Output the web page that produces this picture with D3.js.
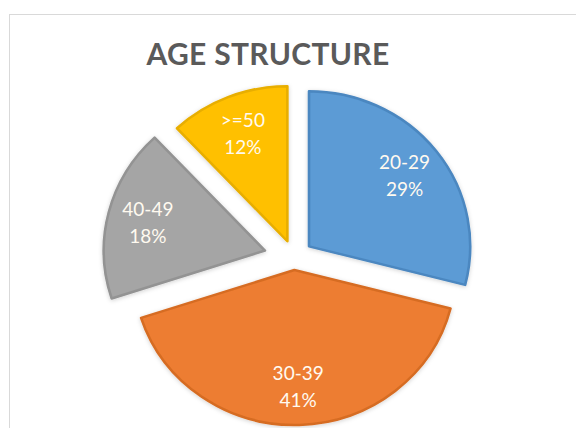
<!DOCTYPE html>
<html>
<head>
<meta charset="utf-8">
<script src="https://cdn.jsdelivr.net/npm/d3@7"></script>
<style>
  html, body { margin: 0; padding: 0; background: #fff; }
  svg { display: block; }
</style>
</head>
<body>
<main></main>
<script>
"use strict";

const categories = ["20-29", "30-39", "40-49", ">=50"];
const shares = [29, 41, 18, 12];
const chartTitle = "AGE STRUCTURE";

const svgWidth = 576;
const svgHeight = 428;
const radius = 155;
const stretchX = 1.04; // the pie is a touch wider than tall
const center = [294, 258];
// how far each slice is pulled out of the pie
const explode = [19, 12, 30, 18];
const fills = ["#5b9bd5", "#ed7d31", "#a5a5a5", "#ffc000"];
const edges = ["#4b87c0", "#d66c24", "#939393", "#e8ae00"];

const container = d3.select("main")
  .append("svg")
  .attr("width", svgWidth)
  .attr("height", svgHeight)
;

const defs = container.append("defs");
defs.append("filter")
  .attr("id", "soft")
  .attr("x", "-10%").attr("y", "-10%")
  .attr("width", "120%").attr("height", "120%")
  .append("feDropShadow")
  .attr("dx", 0)
  .attr("dy", 1)
  .attr("stdDeviation", 2)
  .attr("flood-color", "#000")
  .attr("flood-opacity", 0.18)
;

// chart frame, only its left and top edges fall inside the window
container.append("rect")
  .attr("x", 9.5)
  .attr("y", 14.5)
  .attr("width", 620)
  .attr("height", 500)
  .attr("fill", "#fff")
  .attr("stroke", "#d9d9d9")
;

container.append("text")
  .attr("x", 268)
  .attr("y", 65)
  .attr("text-anchor", "middle")
  .style("font-family", "Lato, 'Open Sans', sans-serif")
  .style("font-weight", "bold")
  .style("font-size", "30px")
  .style("letter-spacing", "0.3px")
  .style("fill", "#5a5a5a")
  .text(chartTitle)
;

const pie = d3.pie()
  .sort(null)
  .value(d => d)
;

const arcs = pie(shares);

const arc = d3.arc()
  .innerRadius(0)
  .outerRadius(radius)
;

const labelArc = d3.arc()
  .innerRadius(radius * 0.75)
  .outerRadius(radius * 0.75)
;

const offset = (d, i) => {
  const mid = (d.startAngle + d.endAngle) / 2;
  return [Math.sin(mid) * explode[i], -Math.cos(mid) * explode[i]];
};

const slices = container.append("g")
  .attr("transform", `translate(${center[0]}, ${center[1]})`)
  .selectAll("g")
  .data(arcs)
  .enter()
  .append("g")
  .attr("transform", (d, i) => {
    const o = offset(d, i);
    return `translate(${o[0]}, ${o[1]})`;
  })
;

slices.append("path")
  .attr("d", arc)
  .attr("transform", `scale(${stretchX}, 1)`)
  .attr("fill", (d, i) => fills[i])
  .attr("stroke", (d, i) => edges[i])
  .attr("stroke-width", 2.5)
  .attr("stroke-linejoin", "round")
  .attr("filter", "url(#soft)")
;

const labels = slices.append("text")
  .attr("transform", d => {
    const c = labelArc.centroid(d);
    return `translate(${c[0] * stretchX}, ${c[1]})`;
  })
  .attr("text-anchor", "middle")
  .style("font-family", "Lato, 'Open Sans', sans-serif")
  .style("font-size", "19px")
  .style("fill", "#fffaf0")
;

labels.append("tspan")
  .attr("x", 0)
  .attr("y", -13.5)
  .attr("dominant-baseline", "central")
  .text((d, i) => categories[i])
;

labels.append("tspan")
  .attr("x", 0)
  .attr("y", 13.5)
  .attr("dominant-baseline", "central")
  .text(d => `${d.data}%`)
;
</script>
</body>
</html>
